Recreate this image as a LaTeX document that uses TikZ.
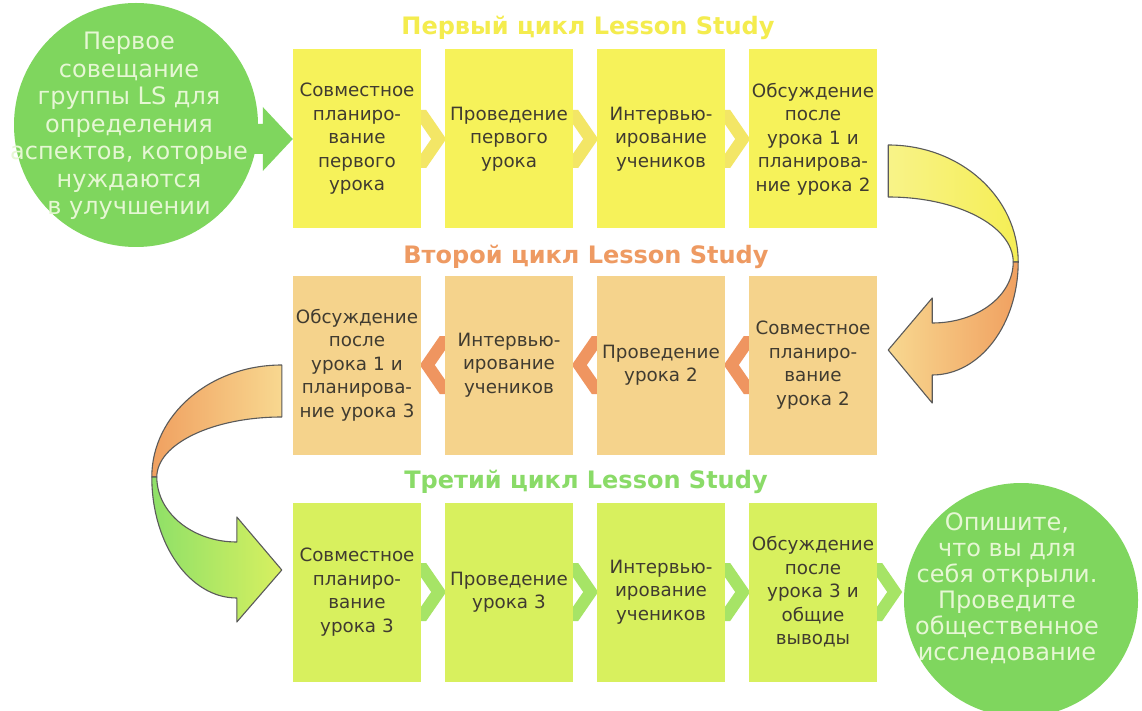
\documentclass[tikz,border=0pt]{standalone}
\usepackage{fontspec}
\setmainfont{DejaVu Sans}
\usetikzlibrary{calc}
\definecolor{boxA}{HTML}{F6F25A}
\definecolor{boxB}{HTML}{F5D38C}
\definecolor{boxC}{HTML}{D8F05E}
\definecolor{chevA}{HTML}{F3E666}
\definecolor{chevB}{HTML}{EF9560}
\definecolor{chevC}{HTML}{A6E466}
\definecolor{titA}{HTML}{F4EC4E}
\definecolor{titB}{HTML}{EE9A62}
\definecolor{titC}{HTML}{8ADB68}
\definecolor{circG}{HTML}{7FD65E}
\definecolor{circT}{HTML}{E6F7D4}
\definecolor{boxtext}{HTML}{403B30}
\definecolor{outl}{HTML}{5A5A5A}
\definecolor{orng}{HTML}{F0A060}
\definecolor{tan}{HTML}{F8D890}
\definecolor{yel}{HTML}{F5EE55}
\definecolor{grn}{HTML}{8EE068}
\definecolor{ygrn}{HTML}{D8F060}
\pgfdeclarelayer{bg}
\pgfsetlayers{bg,main}
\newcommand{\chevright}[2]{\fill[#2] ($(#1.east)+(-10,-29)$) -- ++(15,0) -- ++(20,29) -- ++(-20,29) -- ++(-15,0) -- ++(20,-29) -- cycle;}
\newcommand{\chevleft}[2]{\fill[#2] ($(#1.west)+(10,-29)$) -- ++(-15,0) -- ++(-20,29) -- ++(20,29) -- ++(15,0) -- ++(-20,-29) -- cycle;}
\begin{document}
\begin{tikzpicture}[x=1pt,y=-1pt,
  stepbox/.style={minimum width=128pt, minimum height=179pt, inner sep=0pt, text width=128pt, align=center, font=\fontsize{18.3}{23.5}\selectfont, text=boxtext},
  titlenode/.style={font=\fontsize{24}{27}\selectfont\bfseries, inner sep=0pt},
  bigcirc/.style={circle, fill=circG, minimum size=#1, inner sep=0pt},
  circtext/.style={align=center, text=circT, font=\fontsize{24}{27.5}\selectfont, inner sep=0pt},
  ribbon/.style={draw=outl, line width=1.1pt, line join=round}
]
\useasboundingbox (0,0) rectangle (1142,711);

% titles
\node[titlenode, text=titA] (t1) at (588,28) {Первый цикл Lesson Study};
\node[titlenode, text=titB] (t2) at (586,257) {Второй цикл Lesson Study};
\node[titlenode, text=titC] (t3) at (586,482) {Третий цикл Lesson Study};

% row 1
\node[stepbox, fill=boxA] (b11) at (357,139) {Совместное\\планиро-\\вание\\первого\\урока};
\node[stepbox, fill=boxA] (b12) at (509,139) {Проведение\\первого\\урока};
\node[stepbox, fill=boxA] (b13) at (661,139) {Интервью-\\ирование\\учеников};
\node[stepbox, fill=boxA] (b14) at (813,139) {Обсуждение\\после\\урока 1 и\\планирова-\\ние урока 2};

% row 2
\node[stepbox, fill=boxB] (b21) at (357,365) {Обсуждение\\после\\урока 1 и\\планирова-\\ние урока 3};
\node[stepbox, fill=boxB] (b22) at (509,365) {Интервью-\\ирование\\учеников};
\node[stepbox, fill=boxB] (b23) at (661,365) {Проведение\\урока 2};
\node[stepbox, fill=boxB] (b24) at (813,365) {Совместное\\планиро-\\вание\\урока 2};

% row 3
\node[stepbox, fill=boxC] (b31) at (357,592) {Совместное\\планиро-\\вание\\урока 3};
\node[stepbox, fill=boxC] (b32) at (509,592) {Проведение\\урока 3};
\node[stepbox, fill=boxC] (b33) at (661,592) {Интервью-\\ирование\\учеников};
\node[stepbox, fill=boxC] (b34) at (813,592) {Обсуждение\\после\\урока 3 и\\общие\\выводы};

% circles
\node[bigcirc=244pt] (c1) at (136,125) {};
\node[circtext] (c1t) at ($(c1.center)+(-7,1)$) {Первое\\совещание\\группы LS для\\определения\\аспектов, которые\\нуждаются\\в улучшении};
\node[bigcirc=234pt] (c2) at (1021,600) {};
\node[circtext, font=\fontsize{24}{26}\selectfont] (c2t) at ($(c2.center)+(-14,-12)$) {Опишите,\\что вы для\\себя открыли.\\Проведите\\общественное\\исследование};

% right U-turn ribbon arrow (row 1 -> row 2)
\begin{scope}[shift={(b14.east)}]
  \path[ribbon, left color=yel!70!white, right color=yel] (11,6) .. controls (83,6) and (141,58) .. (141,123) -- (136,123) .. controls (136,87) and (80,58) .. (11,58) -- cycle;
  \path[ribbon, left color=tan, right color=orng] (141,123) .. controls (141,185) and (103,236) .. (55,236) -- (55,264) -- (11,211) -- (55,159) -- (55,184) .. controls (100,184) and (136,157) .. (136,123) -- cycle;
\end{scope}

% left U-turn ribbon arrow (row 2 -> row 3)
\begin{scope}[shift={(b21.west)}]
  \path[ribbon, left color=orng, right color=tan] (-11,0) .. controls (-83,0) and (-141,50) .. (-141,112) -- (-136,112) .. controls (-136,79) and (-80,52) .. (-11,52) -- cycle;
  \path[ribbon, left color=grn, right color=ygrn] (-141,112) .. controls (-141,179) and (-103,233) .. (-56,233) -- (-56,257) -- (-11,205) -- (-56,152) -- (-56,177) .. controls (-100,177) and (-136,148) .. (-136,112) -- cycle;
\end{scope}

\begin{pgfonlayer}{bg}
  \fill[white] (0,0) rectangle (1142,711);
  % green arrow from circle to first box
  \fill[circG] ($(c1.east |- b11.west)+(-10,-15)$) -- ($(b11.west)+(-30,-15)$) -- ($(b11.west)+(-30,-32)$) -- (b11.west) -- ($(b11.west)+(-30,32)$) -- ($(b11.west)+(-30,15)$) -- ($(c1.east |- b11.west)+(-10,15)$) -- cycle;
  \chevright{b11}{chevA}
  \chevright{b12}{chevA}
  \chevright{b13}{chevA}
  \chevleft{b24}{chevB}
  \chevleft{b23}{chevB}
  \chevleft{b22}{chevB}
  \chevright{b31}{chevC}
  \chevright{b32}{chevC}
  \chevright{b33}{chevC}
  \chevright{b34}{chevC}
\end{pgfonlayer}
\end{tikzpicture}
\end{document}
